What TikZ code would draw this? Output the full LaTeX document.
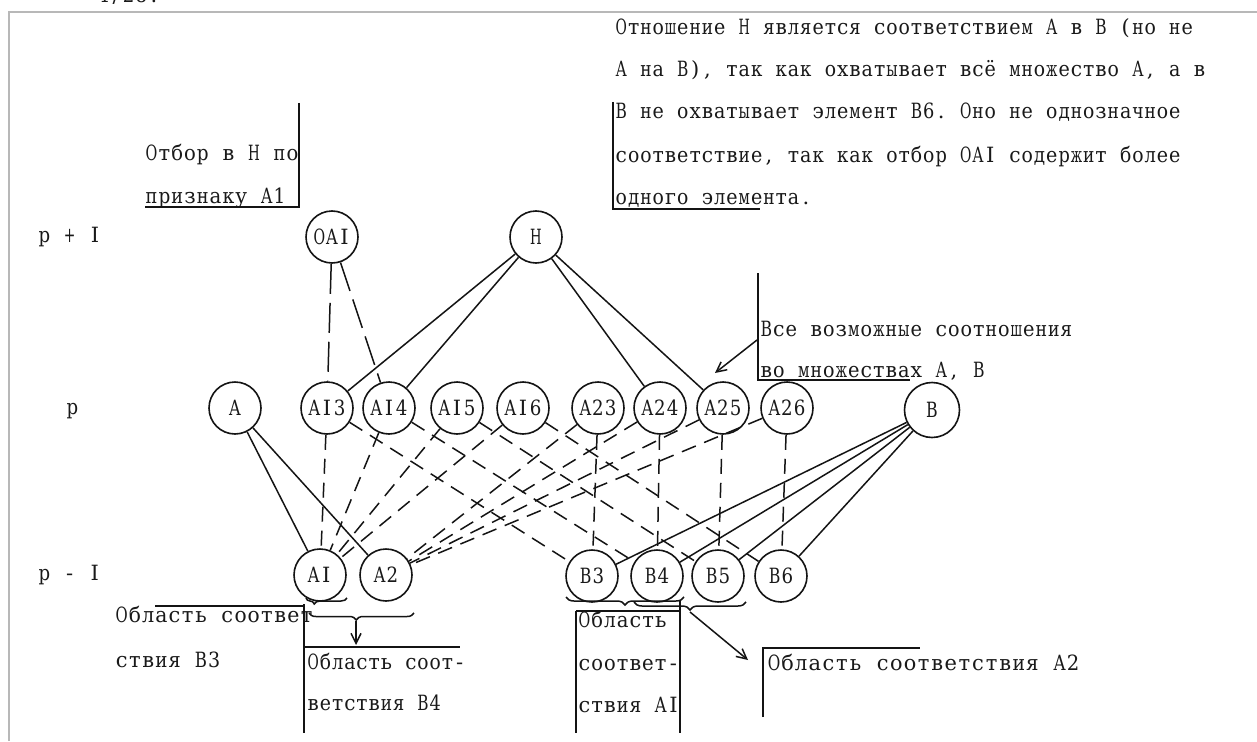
\documentclass[tikz,border=0pt]{standalone}
\usepackage{fontspec}
\setmainfont{DejaVu Serif}
% slab-serif face, set on a fixed typewriter pitch
\newfontfamily\twface{DejaVu Serif}
\usetikzlibrary{arrows.meta,decorations.pathreplacing}

\ExplSyntaxOn
\box_new:N \l__tw_box
\dim_new:N \l__tw_lim_dim
% one character in a cell of width #1; wide glyphs are narrowed to fit
\cs_new_protected:Npn \__tw_char:nn #1#2
  {
    \hbox_set:Nn \l__tw_box {#2}
    \dim_set:Nn \l__tw_lim_dim { #1 * 92 / 100 }
    \dim_compare:nNnT { \box_wd:N \l__tw_box } > { \l__tw_lim_dim }
      {
        \box_resize_to_wd_and_ht:Nnn \l__tw_box
          { \l__tw_lim_dim } { \box_ht:N \l__tw_box }
      }
    \hbox_to_wd:nn {#1} { \hfil \box_use:N \l__tw_box \hfil }
  }
% \tw[pitch]{text}: every character in a cell of the same width
\NewDocumentCommand \tw { O{12.6pt} m }
  { \str_map_inline:nn {#2} { \__tw_char:nn {#1} {##1} } }
\ExplSyntaxOff

\tikzset{
  ink/.style={draw=black!92, line width=1.5pt},
  txt/.style={inner sep=0pt, anchor=base west, text=black!90,
              font=\twface\fontsize{21}{21}\selectfont},
  elem/.style={circle, draw=black!92, line width=1.6pt, minimum size=52pt,
               inner sep=0pt, text=black!90,
               font=\twface\fontsize{21}{21}\selectfont},
  solidlink/.style={ink},
  dashlink/.style={ink, dash pattern=on 15pt off 9pt},
  longdash/.style={ink, dash pattern=on 30pt off 9pt},
  barb/.style={ink, -{Straight Barb[length=10pt,width=10pt]}},
  brc/.style={ink, decorate, decoration={brace, mirror, #1}},
}

\begin{document}
\begin{tikzpicture}[x=1pt, y=-1pt]
\useasboundingbox (0,0) rectangle (1257,741);
\fill[white] (0,0) rectangle (1257,741);

% page frame and page number above it
\node[txt] (pageno) at (97,2.5) {\tw{4/28.}};
\draw[draw=black!28, line width=2pt] (9,741) -- (9,12) -- (1257,12);

% level labels
\node[txt] (lvlup) at (38,242) {\tw{p + I}};
\node[txt] (lvl)   at (66,414) {\tw{p}};
\node[txt] (lvldn) at (38,580) {\tw{p - I}};

% level p+1
\node[elem] (OAI) at (332,237) {\tw{OAI}};
\node[elem] (H)   at (536,237) {\tw{H}};

% level p
\node[elem] (A)   at (235,408) {\tw{A}};
\node[elem] (AI3) at (327,408) {\tw{AI3}};
\node[elem] (AI4) at (389,408) {\tw{AI4}};
\node[elem] (AI5) at (457,408) {\tw{AI5}};
\node[elem] (AI6) at (523,408) {\tw{AI6}};
\node[elem] (A23) at (598,408) {\tw{A23}};
\node[elem] (A24) at (660,408) {\tw{A24}};
\node[elem] (A25) at (723,408) {\tw{A25}};
\node[elem] (A26) at (787,408) {\tw{A26}};
\node[elem, minimum size=55pt] (B) at (932,410) {\tw{B}};

% level p-1
\node[elem] (AI) at (320,575) {\tw{AI}};
\node[elem] (A2) at (386,575) {\tw{A2}};
\node[elem] (B3) at (592,576) {\tw{B3}};
\node[elem] (B4) at (657,576) {\tw{B4}};
\node[elem] (B5) at (718,576) {\tw{B5}};
\node[elem] (B6) at (781,576) {\tw{B6}};

% relation H and the sets
\foreach \t in {AI3,AI4,A24,A25} \draw[solidlink] (H) -- (\t);
\foreach \t in {AI,A2} \draw[solidlink] (A) -- (\t);
\foreach \t in {B3,B4,B5,B6} \draw[solidlink] (B) -- (\t);

% selection OAI
\draw[longdash] (OAI) -- (AI3);
\draw[longdash] (OAI) -- (AI4);

% pairs and their components
\foreach \p/\b in {AI3/B3,AI4/B4,AI5/B5,AI6/B6}{
  \draw[dashlink] (\p) -- (AI);
  \draw[dashlink] (\p) -- (\b);
}
\foreach \p/\b in {A23/B3,A24/B4,A25/B5,A26/B6}{
  \draw[dashlink] (\p) -- (A2);
  \draw[dashlink] (\p) -- (\b);
}

% note: selection in H
\node[txt] (selA) at (145,160) {\tw[12.8pt]{Отбор в Н по}};
\node[txt] (selB) at (145,203) {\tw[12.8pt]{признаку А1}};
\draw[ink] (299,103) -- (299,207) -- (145,207);

% note: properties of H
\node[txt] (relA) at (615,35)  {\tw[12.3pt]{Отношение Н является соответствием А в В (но не}};
\node[txt] (relB) at (615,77)  {\tw[12.3pt]{А на В), так как охватывает всё множество А, а в}};
\node[txt] (relC) at (615,119) {\tw[12.3pt]{В не охватывает элемент В6. Оно не однозначное}};
\node[txt] (relD) at (615,162) {\tw[12.3pt]{соответствие, так как отбор ОАI содержит более}};
\node[txt] (relE) at (615,204) {\tw[12.3pt]{одного элемента.}};
\draw[ink] (613,102) -- (613,209) -- (760,209);

% note: all possible relations
\node[txt] (allA) at (760,336) {\tw[12.5pt]{Все возможные соотношения}};
\node[txt] (allB) at (760,377) {\tw[12.5pt]{во множествах А, В}};
\draw[ink] (758,273) -- (758,380) -- (910,380);
\coordinate (allTip) at (715,373);
\draw[barb] (757,340) -- (allTip);

% domain of B3
\node[txt] (dB3a) at (115,622) {\tw[13.2pt]{Область соответ}};
\node[txt] (dB3b) at (115,667) {\tw[13.2pt]{ствия В3}};
\draw[ink] (155,606) -- (304,606);
\draw[brc={amplitude=6pt, aspect=0.2}] (306,598) -- (347,598);

% domain of B4
\draw[ink] (304,604) -- (304,733);
\draw[ink] (304,647) -- (460,647);
\node[txt] (dB4a) at (307,669) {\tw[12.2pt]{Область соот-}};
\node[txt] (dB4b) at (307,710) {\tw[12.2pt]{ветствия В4}};
\draw[brc={amplitude=7pt, aspect=0.45}] (309,613) -- (414,613);
\coordinate (b4Tip) at (356,645);
\draw[barb] (356,621) -- (b4Tip);

% domain of A1
\draw[brc={amplitude=8pt}] (566,597) -- (684,597);
\draw[ink] (576,611) -- (576,733);
\draw[ink] (680,601) -- (680,733);
\draw[ink] (576,611) -- (680,611);
\node[txt] (dA1a) at (578,627) {\tw[12.7pt]{Область}};
\node[txt] (dA1b) at (578,670) {\tw[12.7pt]{соответ-}};
\node[txt] (dA1c) at (578,712) {\tw[12.7pt]{ствия AI}};

% domain of A2
\draw[brc={amplitude=8pt}] (634,602) -- (746,602);
\coordinate (a2Tip) at (748,660);
\draw[barb] (690,612) -- (a2Tip);
\draw[ink] (763,717) -- (763,648) -- (920,648);
\node[txt] (dA2) at (767,670) {\tw[13.6pt]{Область соответствия А2}};
\end{tikzpicture}
\end{document}
